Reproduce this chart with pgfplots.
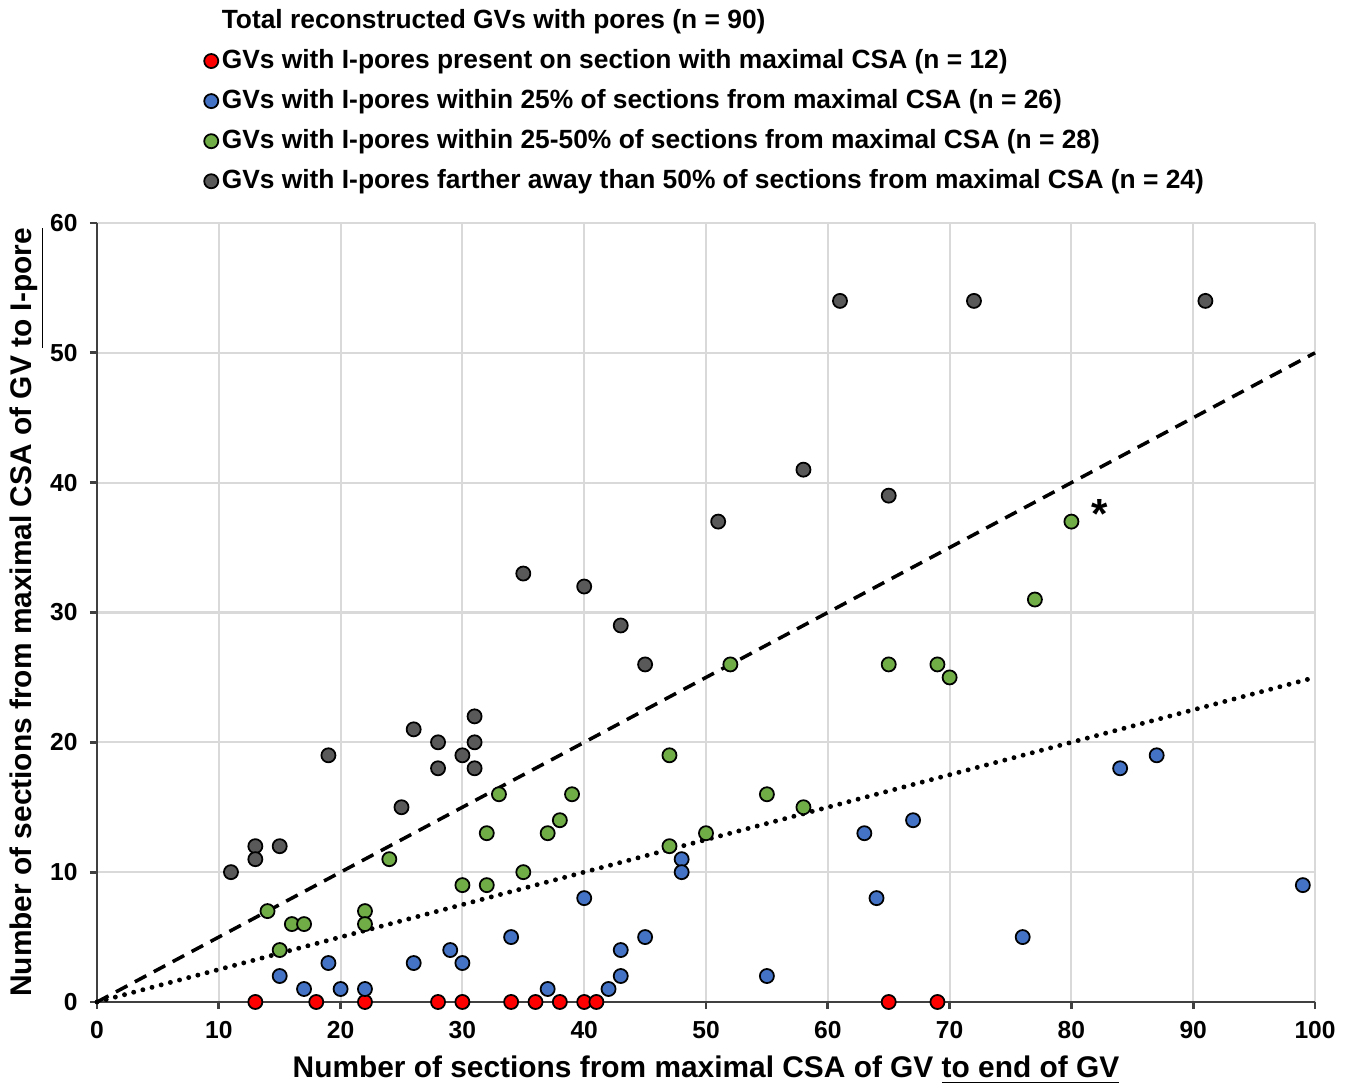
\documentclass[border=0pt]{standalone}
\usepackage{fontspec}
\setmainfont{Liberation Sans}
\usepackage{pgfplots}
\pgfplotsset{compat=1.18}
\usetikzlibrary{calc}
\definecolor{ptred}{HTML}{FF0000}
\definecolor{ptblue}{HTML}{4472C4}
\definecolor{ptgreen}{HTML}{70AD47}
\definecolor{ptgray}{HTML}{595959}
\definecolor{gridc}{HTML}{D9D9D9}
\definecolor{axc}{HTML}{404040}

\begin{document}
\begin{tikzpicture}
\begin{axis}[name=ax, scale only axis, width=12.18cm, height=7.79cm,
  xmin=0, xmax=100, ymin=0, ymax=60,
  xtick={0,10,...,100}, ytick={0,10,...,60},
  axis lines=left, axis line style={-, axc, line width=0.8pt},
  grid=major, grid style={gridc, line width=0.6pt},
  tick align=outside, major tick length=2pt, tick style={axc, line width=0.8pt},
  ticklabel style={font=\fontsize{7}{8}\selectfont\bfseries},
  /pgf/number format/assume math mode=true,
  xlabel={Number of sections from maximal CSA of GV \underline{to end of GV}},
  ylabel={Number of sections from maximal CSA of GV \underline{to I-pore}},
  label style={font=\fontsize{8.5}{10}\selectfont\bfseries},
  xlabel style={at={(axis description cs:0.5,-0.0873)}, anchor=center},
  ylabel style={at={(axis description cs:-0.0575,0.5)}, anchor=center},
  clip=false,
  legend cell align=left,
  legend image code/.code={\draw[mark repeat=2,mark phase=2,#1] plot coordinates {(0cm,0cm)(0.08cm,0cm)(0.16cm,0cm)};},
  legend style={at={(axis description cs:0.078,1.022)}, anchor=south west,
    draw=none, fill=none, row sep=1.8pt,
    font=\fontsize{7.5}{9}\selectfont\bfseries,
    nodes={inner sep=1pt, text height=6pt, text depth=1.6pt}},
  every axis plot/.append style={only marks, mark=*, mark size=2pt},
]
% reference lines
\addplot[forget plot, no marks, sharp plot, black, line width=1pt, dash pattern=on 3.7pt off 2.4pt] coordinates {(0,0) (100,50)};
\addplot[forget plot, no marks, sharp plot, black, line width=1.4pt, line cap=round, dash pattern=on 0pt off 2.7pt] coordinates {(0,0) (100,25)};

\addlegendimage{empty legend}
% I-pore on max CSA section
\addplot[mark options={fill=ptred, draw=black, line width=0.5pt}] coordinates {
(13,0) (18,0) (22,0) (28,0) (30,0) (34,0) (36,0) (38,0) (40,0) (41,0) (65,0) (69,0)};
% within 25%
\addplot[mark options={fill=ptblue, draw=black, line width=0.5pt}] coordinates {
(15,2) (17,1) (19,3) (20,1) (22,1) (26,3) (29,4) (30,3) (34,5) (37,1)
(40,8) (42,1) (43,2) (43,4) (45,5) (48,11) (48,10) (55,2) (63,13) (64,8)
(67,14) (76,5) (84,18) (87,19) (99,9)};
% within 25-50%
\addplot[mark options={fill=ptgreen, draw=black, line width=0.5pt}] coordinates {
(14,7) (15,4) (16,6) (17,6) (22,7) (22,6) (24,11) (30,9) (32,9) (32,13)
(33,16) (35,10) (37,13) (38,14) (39,16) (47,19) (47,12) (50,13) (52,26) (55,16)
(58,15) (65,26) (69,26) (70,25) (77,31) (80,37)};
% farther than 50%
\addplot[mark options={fill=ptgray, draw=black, line width=0.5pt}] coordinates {
(11,10) (13,12) (13,11) (15,12) (19,19) (25,15) (26,21) (28,20) (28,18) (30,19)
(31,22) (31,20) (31,18) (35,33) (40,32) (43,29) (45,26) (51,37) (58,41) (61,54)
(65,39) (72,54) (91,54)};

\node[font=\fontsize{12}{12}\selectfont\bfseries] at (axis cs:82.3,37.6) {*};

\legend{Total reconstructed GVs with pores (n = 90),
GVs with I-pores present on section with maximal CSA (n = 12),
GVs with I-pores within 25\% of sections from maximal CSA (n = 26),
GVs with I-pores within 25-50\% of sections from maximal CSA (n = 28),
GVs with I-pores farther away than 50\% of sections from maximal CSA (n = 24)}
\end{axis}
\pgfresetboundingbox
\path[use as bounding box] ($(ax.south west)+(-0.97cm,-0.85cm)$) rectangle ($(ax.north east)+(0.40cm,2.23cm)$);
\end{tikzpicture}
\end{document}
